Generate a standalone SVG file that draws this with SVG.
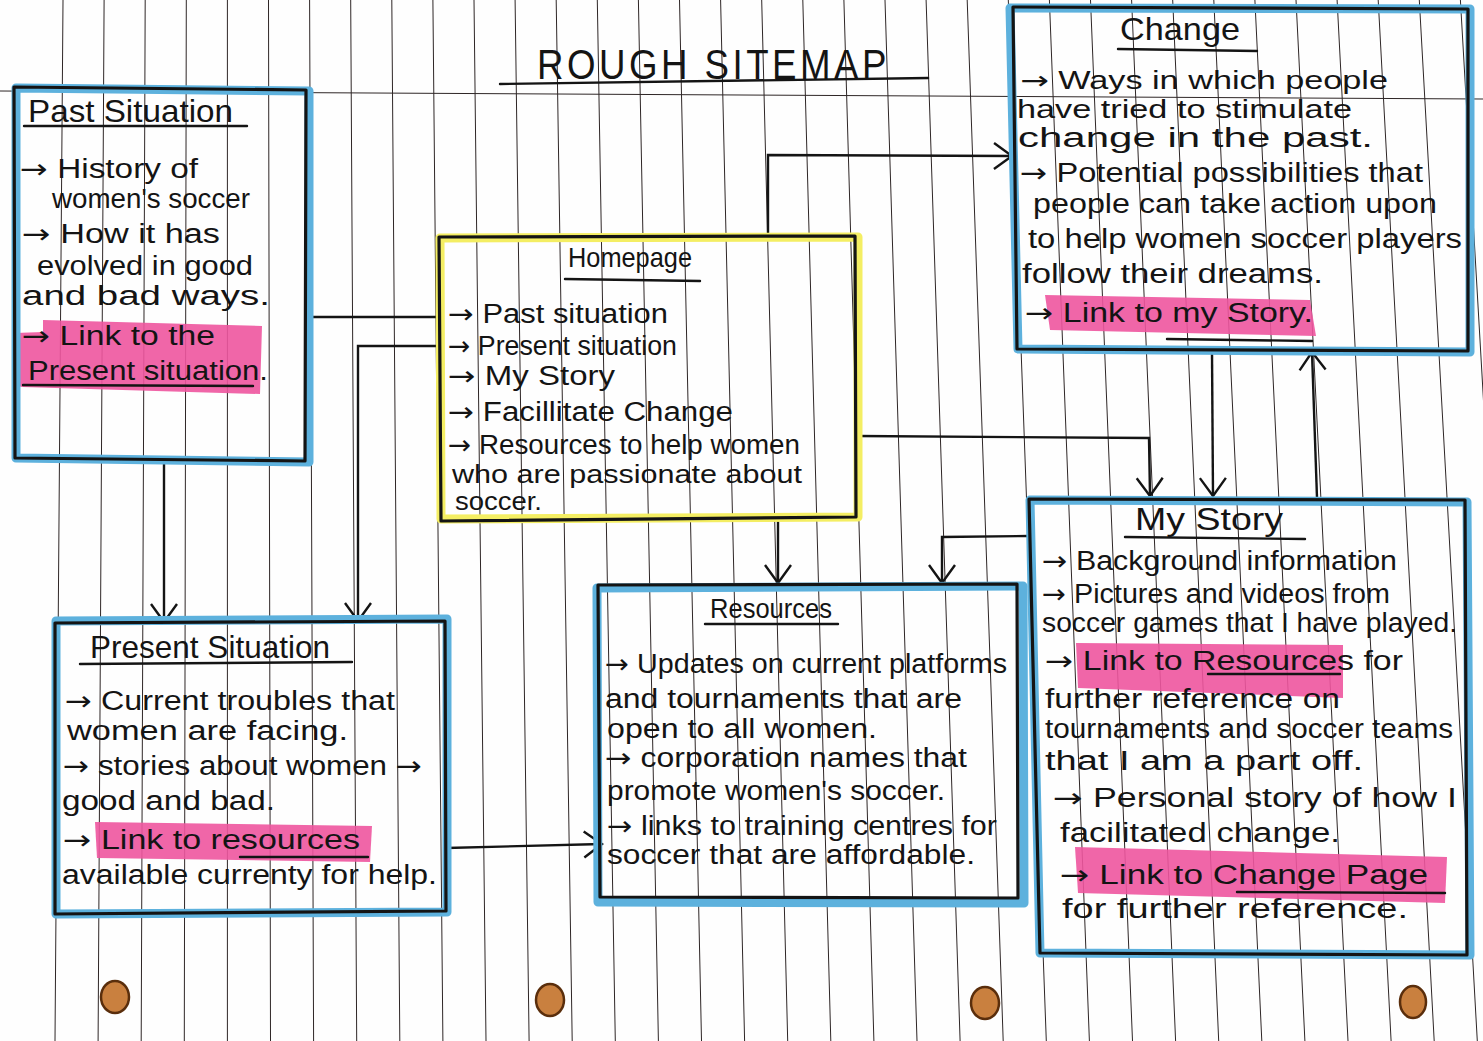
<svg xmlns="http://www.w3.org/2000/svg" width="1483" height="1041" viewBox="0 0 1483 1041">
  <style>
    .paper { fill: #fefefe; }
    .rule { stroke: #2e2626; stroke-width: 1; fill: none; }
    .hl-blue { fill: none; stroke: #5db1dd; stroke-width: 9; stroke-linejoin: round; }
    .hl-yellow { fill: none; stroke: #f4ee63; stroke-width: 9; stroke-linejoin: round; }
    .pen-box { fill: none; stroke: #141414; stroke-width: 3.2; stroke-linejoin: round; }
    .pink { fill: #ee559e; opacity: 0.9; }
    .ul { stroke: #141414; stroke-width: 2.4; fill: none; stroke-linecap: round; }
    .link { stroke: #141414; stroke-width: 2.4; fill: none; }
    .t { font-family: "Liberation Sans", "DejaVu Sans", sans-serif; font-size: 27px; fill: #141414; }
    .s { font-size: 25px; }
    .h { font-family: "Liberation Sans", "DejaVu Sans", sans-serif; font-size: 32px; fill: #141414; }
    .ar { font-family: "DejaVu Sans", sans-serif; }
    .title { font-family: "Liberation Sans", "DejaVu Sans", sans-serif; font-size: 42px; fill: #141414; letter-spacing: 4px; }
    .hole { fill: #c9803f; stroke: #5a2e0c; stroke-width: 2.5; }
  </style>
  <defs>
    <marker id="vee" markerUnits="userSpaceOnUse" viewBox="0 0 22 30" markerWidth="22" markerHeight="30" refX="20" refY="15" orient="auto">
      <path d="M2,2 L20,15 L2,28" fill="none" stroke="#141414" stroke-width="2.4"/>
    </marker>
  </defs>

  <!-- sheet of ruled paper -->
  <rect class="paper" x="0" y="0" width="1483" height="1041"/>
  <path class="rule" d="M63,0 L55,1041 M104.1,0 L98.1,1041 M145.2,0 L141.2,1041 M186.3,0 L184.3,1041 M227.4,0 L227.4,1041 M268.5,0 L270.5,1041 M309.6,0 L313.6,1041 M350.7,0 L356.7,1041 M391.8,0 L399.8,1041 M432.9,0 L442.9,1041 M474,0 L486,1041 M515.1,0 L529.1,1041 M556.2,0 L572.2,1041 M597.3,0 L615.3,1041 M638.4,0 L658.4,1041 M679.5,0 L701.5,1041 M720.6,0 L744.6,1041 M761.7,0 L787.7,1041 M802.8,0 L830.8,1041 M843.9,0 L873.9,1041 M885,0 L917,1041 M926.1,0 L960.1,1041 M967.2,0 L1003.2,1041 M1008.3,0 L1046.3,1041 M1049.4,0 L1089.4,1041 M1090.5,0 L1132.5,1041 M1131.6,0 L1175.6,1041 M1172.7,0 L1218.7,1041 M1213.8,0 L1261.8,1041 M1254.9,0 L1304.9,1041 M1296,0 L1348,1041 M1337.1,0 L1391.1,1041 M1378.2,0 L1434.2,1041 M1419.3,0 L1477.3,1041 M1460.4,0 L1520.4,1041"/>
  <path class="rule" d="M0,91 L1483,99"/>

  <!-- binder holes -->
  <ellipse class="hole" cx="115" cy="997" rx="14" ry="16"/>
  <ellipse class="hole" cx="550" cy="1000" rx="14" ry="16"/>
  <ellipse class="hole" cx="985" cy="1003" rx="14" ry="16"/>
  <ellipse class="hole" cx="1413" cy="1002" rx="13" ry="16"/>

  <!-- heading -->
  <g id="heading">
    <text class="title" x="537" y="79" textLength="353" lengthAdjust="spacingAndGlyphs">ROUGH SITEMAP</text>
    <path class="ul" d="M500,84 L928,78"/>
  </g>

  <!-- connectors -->
  <g id="connectors">
    <path class="link" d="M313,317 L440,317"/>
    <path class="link" d="M440,346 L358,346 L358,621" marker-end="url(#vee)"/>
    <path class="link" d="M164,462 L164,622" marker-end="url(#vee)"/>
    <path class="link" d="M768,236 L768,155 L1012,156" marker-end="url(#vee)"/>
    <path class="link" d="M858,436 L1149,438 L1150,496" marker-end="url(#vee)"/>
    <path class="link" d="M778,519 L778,583" marker-end="url(#vee)"/>
    <path class="link" d="M1028,536 L942,537 L942,583" marker-end="url(#vee)"/>
    <path class="link" d="M1212,353 L1213,496" marker-end="url(#vee)"/>
    <path class="link" d="M1317,498 L1312,352" marker-end="url(#vee)"/>
    <path class="link" d="M446,848 L602,844" marker-end="url(#vee)"/>
  </g>

  <!-- Past Situation -->
  <g id="past-situation">
    <path class="pink" d="M43,320 L262,326 L260,394 L22,387 L15,385 L15,333 L43,332 Z"/>
    <path class="hl-blue" d="M16,88 L309,91 L309,462 L16,458 Z"/>
    <path class="pen-box" d="M14,87 L306,90 L305,461 L15,458 Z"/>
    <text class="h" x="28" y="122" textLength="205" lengthAdjust="spacingAndGlyphs">Past Situation</text>
    <path class="ul" d="M24,126 L247,126"/>
    <text class="t" x="20" y="178" textLength="178" lengthAdjust="spacingAndGlyphs"><tspan class="ar">→</tspan> History of</text>
    <text class="t" x="52" y="208" textLength="198" lengthAdjust="spacingAndGlyphs">women's soccer</text>
    <text class="t" x="22" y="243" textLength="198" lengthAdjust="spacingAndGlyphs"><tspan class="ar">→</tspan> How it has</text>
    <text class="t" x="37" y="275" textLength="216" lengthAdjust="spacingAndGlyphs">evolved in good</text>
    <text class="t" x="22" y="305" textLength="248" lengthAdjust="spacingAndGlyphs">and bad ways.</text>
    <text class="t" x="22" y="345" textLength="193" lengthAdjust="spacingAndGlyphs"><tspan class="ar">→</tspan> Link to the</text>
    <text class="t" x="28" y="380" textLength="240" lengthAdjust="spacingAndGlyphs">Present situation.</text>
    <path class="ul" d="M23,385 L253,386"/>
  </g>

  <!-- Homepage -->
  <g id="homepage">
    <path class="hl-yellow" d="M440,238 L858,237 L858,517 L441,519 Z"/>
    <path class="pen-box" d="M439,237 L855,236 L856,517 L441,521 Z"/>
    <text class="h" x="568" y="267" textLength="124" lengthAdjust="spacingAndGlyphs" style="font-size:28px">Homepage</text>
    <path class="ul" d="M565,279 L700,281"/>
    <text class="t" x="448" y="323" textLength="220" lengthAdjust="spacingAndGlyphs"><tspan class="ar">→</tspan> Past situation</text>
    <text class="t" x="448" y="355" textLength="229" lengthAdjust="spacingAndGlyphs"><tspan class="ar">→</tspan> Present situation</text>
    <text class="t" x="448" y="385" textLength="167" lengthAdjust="spacingAndGlyphs"><tspan class="ar">→</tspan> My Story</text>
    <text class="t" x="448" y="421" textLength="285" lengthAdjust="spacingAndGlyphs"><tspan class="ar">→</tspan> Facillitate Change</text>
    <text class="t" x="448" y="454" textLength="352" lengthAdjust="spacingAndGlyphs"><tspan class="ar">→</tspan> Resources to help women</text>
    <text class="t s" x="452" y="483" textLength="350" lengthAdjust="spacingAndGlyphs">who are passionate about</text>
    <text class="t s" x="455" y="510" textLength="87" lengthAdjust="spacingAndGlyphs">soccer.</text>
  </g>

  <!-- Change -->
  <g id="change">
    <path class="pink" d="M1045,295 L1310,300 L1316,336 L1050,330 Z"/>
    <path class="hl-blue" d="M1010,8 L1470,9 L1470,352 L1018,349 Z"/>
    <path class="pen-box" d="M1013,7 L1468,9 L1468,351 L1017,349 Z"/>
    <text class="h" x="1120" y="40" textLength="120" lengthAdjust="spacingAndGlyphs">Change</text>
    <path class="ul" d="M1118,49 L1257,51"/>
    <text class="t s" x="1020" y="89" textLength="368" lengthAdjust="spacingAndGlyphs"><tspan class="ar">→</tspan> Ways in which people</text>
    <text class="t s" x="1017" y="118" textLength="335" lengthAdjust="spacingAndGlyphs">have tried to stimulate</text>
    <text class="t" x="1018" y="147" textLength="355" lengthAdjust="spacingAndGlyphs">change in the past.</text>
    <text class="t" x="1020" y="182" textLength="403" lengthAdjust="spacingAndGlyphs"><tspan class="ar">→</tspan> Potential possibilities that</text>
    <text class="t" x="1033" y="213" textLength="404" lengthAdjust="spacingAndGlyphs">people can take action upon</text>
    <text class="t" x="1028" y="248" textLength="434" lengthAdjust="spacingAndGlyphs">to help women soccer players</text>
    <text class="t" x="1022" y="283" textLength="301" lengthAdjust="spacingAndGlyphs">follow their dreams.</text>
    <text class="t" x="1025" y="322" textLength="288" lengthAdjust="spacingAndGlyphs"><tspan class="ar">→</tspan> Link to my Story.</text>
    <path class="ul" d="M1167,339 L1312,341"/>
  </g>

  <!-- Present Situation -->
  <g id="present-situation">
    <path class="pink" d="M95,822 L372,826 L370,862 L97,858 Z"/>
    <path class="hl-blue" d="M56,621 L447,619 L447,912 L56,914 Z"/>
    <path class="pen-box" d="M55,623 L445,621 L446,911 L55,914 Z"/>
    <text class="h" x="90" y="658" textLength="240" lengthAdjust="spacingAndGlyphs">Present Situation</text>
    <path class="ul" d="M80,664 L352,662"/>
    <text class="t" x="65" y="710" textLength="330" lengthAdjust="spacingAndGlyphs"><tspan class="ar">→</tspan> Current troubles that</text>
    <text class="t" x="67" y="740" textLength="281" lengthAdjust="spacingAndGlyphs">women are facing.</text>
    <text class="t" x="63" y="775" textLength="359" lengthAdjust="spacingAndGlyphs"><tspan class="ar">→</tspan> stories about women <tspan class="ar">→</tspan></text>
    <text class="t" x="62" y="810" textLength="213" lengthAdjust="spacingAndGlyphs">good and bad.</text>
    <text class="t" x="63" y="849" textLength="297" lengthAdjust="spacingAndGlyphs"><tspan class="ar">→</tspan> Link to resources</text>
    <path class="ul" d="M240,857 L368,857"/>
    <text class="t" x="62" y="884" textLength="375" lengthAdjust="spacingAndGlyphs">available currenty for help.</text>
  </g>

  <!-- Resources -->
  <g id="resources">
    <path class="hl-blue" d="M597,588 L1023,586 L1024,903 L598,902 Z"/>
    <path class="pen-box" d="M598,585 L1017,584 L1018,898 L600,897 Z"/>
    <text class="h" x="710" y="618" textLength="122" lengthAdjust="spacingAndGlyphs" style="font-size:28px">Resources</text>
    <path class="ul" d="M705,624 L838,624"/>
    <text class="t" x="605" y="673" textLength="402" lengthAdjust="spacingAndGlyphs"><tspan class="ar">→</tspan> Updates on current platforms</text>
    <text class="t" x="605" y="708" textLength="357" lengthAdjust="spacingAndGlyphs">and tournaments that are</text>
    <text class="t" x="607" y="738" textLength="270" lengthAdjust="spacingAndGlyphs">open to all women.</text>
    <text class="t" x="605" y="767" textLength="362" lengthAdjust="spacingAndGlyphs"><tspan class="ar">→</tspan> corporation names that</text>
    <text class="t" x="607" y="800" textLength="338" lengthAdjust="spacingAndGlyphs">promote women's soccer.</text>
    <text class="t" x="607" y="835" textLength="390" lengthAdjust="spacingAndGlyphs"><tspan class="ar">→</tspan> links to training centres for</text>
    <text class="t" x="607" y="864" textLength="368" lengthAdjust="spacingAndGlyphs">soccer that are affordable.</text>
  </g>

  <!-- My Story -->
  <g id="my-story">
    <path class="pink" d="M1076,643 L1343,645 L1343,698 L1078,688 Z"/>
    <path class="pink" d="M1075,847 L1447,857 L1445,903 L1078,893 Z"/>
    <path class="hl-blue" d="M1030,500 L1467,502 L1470,955 L1040,953 Z"/>
    <path class="pen-box" d="M1029,499 L1465,500 L1467,955 L1040,953 Z"/>
    <text class="h" x="1135" y="530" textLength="148" lengthAdjust="spacingAndGlyphs">My Story</text>
    <path class="ul" d="M1125,537 L1305,539"/>
    <text class="t" x="1042" y="570" textLength="355" lengthAdjust="spacingAndGlyphs"><tspan class="ar">→</tspan> Background information</text>
    <text class="t" x="1042" y="603" textLength="348" lengthAdjust="spacingAndGlyphs"><tspan class="ar">→</tspan> Pictures and videos from</text>
    <text class="t" x="1042" y="632" textLength="415" lengthAdjust="spacingAndGlyphs">soccer games that I have played.</text>
    <text class="t" x="1045" y="670" textLength="358" lengthAdjust="spacingAndGlyphs"><tspan class="ar">→</tspan> Link to Resources for</text>
    <path class="ul" d="M1208,674 L1340,674"/>
    <text class="t" x="1045" y="708" textLength="295" lengthAdjust="spacingAndGlyphs">further reference on</text>
    <text class="t" x="1045" y="738" textLength="408" lengthAdjust="spacingAndGlyphs">tournaments and soccer teams</text>
    <text class="t" x="1045" y="770" textLength="318" lengthAdjust="spacingAndGlyphs">that I am a part off.</text>
    <text class="t" x="1053" y="807" textLength="404" lengthAdjust="spacingAndGlyphs"><tspan class="ar">→</tspan> Personal story of how I</text>
    <text class="t" x="1060" y="842" textLength="280" lengthAdjust="spacingAndGlyphs">facilitated change.</text>
    <text class="t" x="1060" y="884" textLength="368" lengthAdjust="spacingAndGlyphs"><tspan class="ar">→</tspan> Link to Change Page</text>
    <path class="ul" d="M1237,892 L1445,893"/>
    <text class="t" x="1062" y="918" textLength="346" lengthAdjust="spacingAndGlyphs">for further reference.</text>
  </g>
</svg>
